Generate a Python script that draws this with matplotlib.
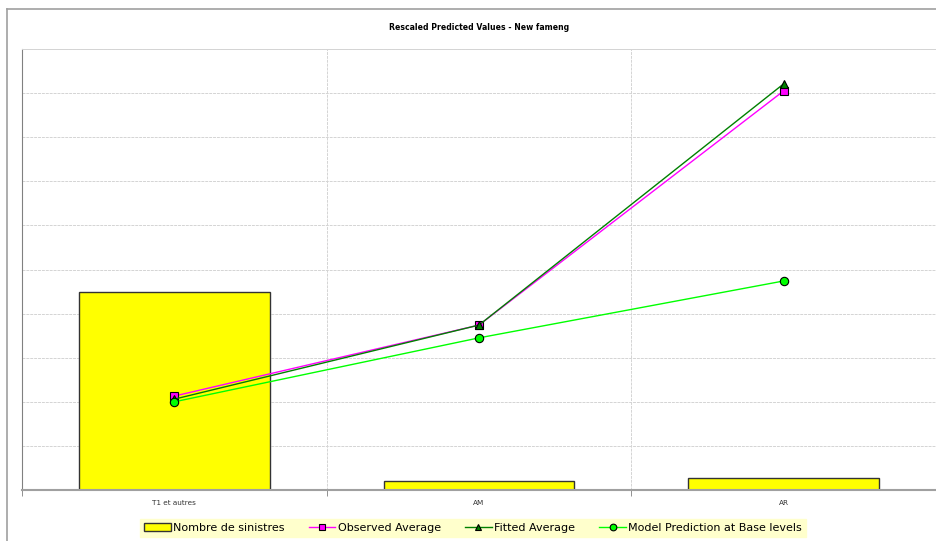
import matplotlib.pyplot as plt
from matplotlib.lines import Line2D

categories = ['T1 et autres', 'AM', 'AR']
nombre_sinistres = [4.49, 0.20, 0.27]
observed_avg = [2.13, 3.74, 9.05]
fitted_avg = [2.06, 3.74, 9.21]
model_base = [2.00, 3.45, 4.74]

fig = plt.figure(figsize=(9.37, 5.41), dpi=100)
W, H = 937, 541

# outer chart border (left and top only visible)
fig.add_artist(Line2D([7 / W, 7 / W], [0, 1 - 9 / H], color='#A0A0A0', lw=1.2))
fig.add_artist(Line2D([7 / W, 1], [1 - 9 / H, 1 - 9 / H], color='#A0A0A0', lw=1.2))

ax = fig.add_axes([22 / W, 51 / H, 914 / W, 441 / H])
x = list(range(len(categories)))

ax.bar(x, nombre_sinistres, width=0.625, color='#FFFF00', edgecolor='#333333',
       linewidth=1, zorder=2, label='Nombre de sinistres')
ax.set_xlim(-0.5, 2.5)
ax.set_ylim(0, 10)
ax.set_yticks(range(0, 11))
ax.set_xticks(x)
ax.set_xticklabels(categories, fontsize=5.2, color='#333333')
ax.tick_params(axis='x', length=0, pad=7)
ax.set_xticks([-0.5, 0.5, 1.5, 2.5], minor=True)
ax.tick_params(axis='x', which='minor', length=4, color='#808080')
ax.grid(axis='y', color='#D4D4D4', lw=0.7, ls=(0, (3, 1)), zorder=0)
ax.grid(axis='x', which='minor', color='#D4D4D4', lw=0.7, ls=(0, (3, 1)), zorder=0)
for s in ['top', 'right']:
    ax.spines[s].set_color('#D4D4D4')
    ax.spines[s].set_linewidth(0.7)
ax.spines['left'].set_color('#808080')
ax.spines['bottom'].set_color('#A0A0A0')
ax.spines['bottom'].set_linewidth(1.5)

ax2 = ax.twinx()
ax2.set_ylim(0, 10)
ax2.set_yticks([])
for s in ax2.spines.values():
    s.set_visible(False)
# twinx turns the left ticks back on
ax.tick_params(axis='y', left=False, labelleft=False, right=False)

ax2.plot(x, observed_avg, color='#FF00FF', lw=1, marker='s', ms=6,
         mfc='#FF00FF', mec='black', mew=0.8, label='Observed Average', zorder=3)
ax2.plot(x, fitted_avg, color='#008000', lw=1, marker='^', ms=6,
         mfc='#008000', mec='black', mew=0.8, label='Fitted Average', zorder=4)
ax2.plot(x, model_base, color='#00FF00', lw=1, marker='o', ms=6,
         mfc='#00FF00', mec='black', mew=0.8, label='Model Prediction at Base levels', zorder=5)

fig.text(479 / W, 1 - 27 / H, 'Rescaled Predicted Values - New fameng',
         ha='center', va='center', fontsize=5.6, fontweight='bold')

h1, l1 = ax.get_legend_handles_labels()
h2, l2 = ax2.get_legend_handles_labels()
leg = fig.legend(h1 + h2, l1 + l2, loc='center', bbox_to_anchor=(473 / W, 1 - 528 / H),
                 ncol=4, fontsize=8, frameon=True, fancybox=False, handlelength=2.4,
                 handletextpad=0.2, columnspacing=2.2, borderpad=0.35, markerscale=0.8)
leg.get_frame().set_facecolor('#FFFFCC')
leg.get_frame().set_edgecolor('#FFFFCC')
leg.get_frame().set_alpha(1)

fig.savefig('out.png', dpi=100)
